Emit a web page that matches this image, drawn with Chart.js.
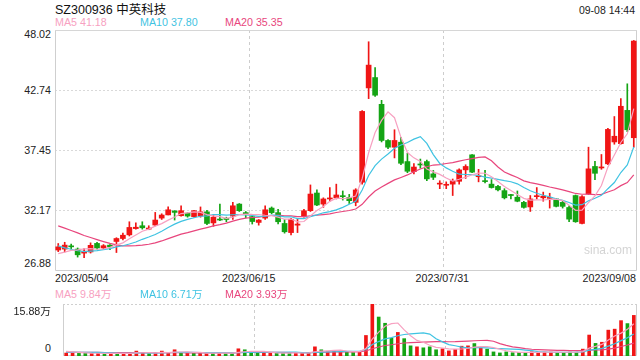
<!DOCTYPE html>
<html><head><meta charset="utf-8">
<script src="https://cdn.jsdelivr.net/npm/chart.js@4/dist/chart.umd.min.js"></script>
<style>
html,body{margin:0;padding:0;background:#fff;}
body{width:640px;height:360px;position:relative;overflow:hidden;font-family:"Liberation Sans",Arial,"Noto Sans CJK SC",sans-serif;}
.t{position:absolute;white-space:nowrap;line-height:1;color:#222;}
canvas{position:absolute;}
</style></head><body>
<canvas id="main" width="583" height="242" style="left:54px;top:29px;width:583px;height:242px"></canvas>
<canvas id="vol" width="583" height="53" style="left:54px;top:303px;width:583px;height:53px"></canvas>
<script>
// ---------- data ----------
const dates = ['2023/05/04','2023/05/05','2023/05/08','2023/05/09','2023/05/10','2023/05/11','2023/05/12','2023/05/15','2023/05/16','2023/05/17',
'2023/05/18','2023/05/19','2023/05/22','2023/05/23','2023/05/24','2023/05/25','2023/05/26','2023/05/29','2023/05/30','2023/05/31',
'2023/06/01','2023/06/02','2023/06/05','2023/06/06','2023/06/07','2023/06/08','2023/06/09','2023/06/12','2023/06/13','2023/06/14',
'2023/06/15','2023/06/16','2023/06/19','2023/06/20','2023/06/21','2023/06/26','2023/06/27','2023/06/28','2023/06/29','2023/06/30',
'2023/07/03','2023/07/04','2023/07/05','2023/07/06','2023/07/07','2023/07/10','2023/07/11','2023/07/12','2023/07/13','2023/07/14',
'2023/07/17','2023/07/18','2023/07/19','2023/07/20','2023/07/21','2023/07/24','2023/07/25','2023/07/26','2023/07/27','2023/07/28',
'2023/07/31','2023/08/01','2023/08/02','2023/08/03','2023/08/04','2023/08/07','2023/08/08','2023/08/09','2023/08/10','2023/08/11',
'2023/08/14','2023/08/15','2023/08/16','2023/08/17','2023/08/18','2023/08/21','2023/08/22','2023/08/23','2023/08/24','2023/08/25',
'2023/08/28','2023/08/29','2023/08/30','2023/08/31','2023/09/01','2023/09/04','2023/09/05','2023/09/06','2023/09/07','2023/09/08'];

const openP = [28.72,28.80,29.02,28.80,28.45,28.55,29.30,28.90,29.15,29.47,
29.73,30.05,30.60,30.85,30.55,30.91,31.52,31.80,32.15,31.73,
31.95,31.65,31.70,32.07,31.10,31.42,31.45,31.70,32.75,32.00,
31.65,31.14,31.52,32.40,32.00,31.05,30.25,30.90,31.70,32.17,
33.72,32.75,33.20,33.30,33.45,33.33,32.90,34.66,42.94,43.85,
41.50,38.33,37.74,38.18,36.48,35.60,36.22,36.48,35.40,34.50,
34.40,34.50,34.75,35.75,37.07,35.15,34.78,34.50,34.30,33.93,
33.58,33.35,32.90,32.50,33.40,33.30,33.25,33.20,32.90,32.45,
33.50,31.05,33.64,36.05,35.92,36.28,38.20,38.05,40.97,38.57];

const highP = [29.29,29.40,29.25,28.90,28.85,29.35,29.40,29.20,29.20,29.80,
30.20,31.20,31.10,31.20,30.85,32.02,31.90,32.50,32.17,32.60,
32.00,32.20,32.50,32.20,31.80,32.75,31.60,32.90,32.80,32.10,
31.70,31.40,32.60,32.50,32.30,31.40,31.50,31.45,32.30,34.43,
33.99,33.30,34.20,34.50,33.90,33.60,34.10,40.95,46.99,44.73,
41.85,38.40,39.27,38.60,37.20,36.30,36.70,36.60,35.70,34.80,
34.70,34.95,35.85,36.20,37.10,35.80,35.70,34.90,34.40,34.10,
33.60,33.90,33.00,33.50,34.20,33.80,33.70,33.25,33.00,32.60,
33.55,33.50,37.74,36.50,37.10,39.40,40.43,42.00,43.30,47.10];

const lowP = [28.58,28.55,28.80,28.10,28.05,28.45,28.80,28.80,28.75,28.50,
29.60,29.95,30.55,30.55,30.50,30.84,31.40,31.80,31.35,31.70,
31.60,31.60,31.60,30.95,30.80,31.30,31.20,31.40,32.10,31.55,
31.00,30.90,31.40,31.90,31.00,30.20,30.05,30.25,31.60,32.10,
32.60,32.46,33.00,33.20,33.10,32.80,32.60,34.50,42.00,42.20,
38.20,37.60,36.80,36.20,35.50,35.40,35.90,34.80,34.90,34.10,
34.10,33.50,34.50,35.00,35.50,34.70,34.60,34.15,33.90,33.20,
33.20,32.95,32.40,32.10,33.20,33.00,32.40,32.50,32.40,31.20,
31.15,31.00,33.60,34.90,35.80,36.20,38.00,38.00,39.10,37.74];

const closeP = [29.00,29.15,29.00,28.30,28.62,29.13,28.90,29.10,29.00,29.73,
30.02,30.70,30.72,30.67,30.65,31.35,31.79,32.25,32.02,32.17,
31.70,32.17,32.07,31.05,31.60,31.35,31.40,32.60,32.17,31.85,
31.22,31.35,32.25,32.00,31.20,30.32,31.42,31.00,32.17,33.63,
32.67,33.20,33.28,33.55,33.40,33.05,33.99,40.88,44.94,42.30,
38.33,37.74,38.33,36.33,35.63,36.00,36.18,34.96,35.10,34.52,
34.45,34.80,35.75,36.05,35.55,35.20,34.72,34.20,34.00,33.30,
33.50,33.00,32.46,33.20,33.43,33.45,33.30,32.55,32.55,31.43,
31.20,33.40,35.84,35.45,35.98,39.30,38.70,41.33,39.27,47.05];

// volume in 万 shares
const volume = [0.90,0.85,0.80,0.90,0.80,0.85,0.80,0.75,0.80,0.95,
0.85,1.50,0.90,0.85,0.80,1.50,1.00,1.90,0.90,0.95,
0.85,0.85,0.90,0.95,0.85,0.80,0.75,2.20,1.90,1.30,
0.90,0.85,0.95,0.85,0.90,0.95,1.00,0.85,0.90,2.80,
1.90,1.45,1.45,1.45,1.35,1.05,1.35,6.27,15.88,11.90,
10.00,5.40,7.20,5.30,3.10,2.80,2.50,2.80,1.90,2.20,
1.57,2.00,3.00,3.10,3.80,2.50,2.10,1.25,0.94,1.25,
1.00,1.10,1.10,1.30,1.10,1.20,1.20,1.10,1.10,1.20,
1.15,2.10,6.40,3.85,4.20,7.90,8.20,10.80,9.90,12.40];

// sessions before 2023/05/04 (not drawn), estimated from where the MA lines start
const prevClose = [33.2,33.0,32.6,33.1,32.8,32.5,32.6,32.25,32.2,31.75,30.9,30.2,29.6,29.3,28.8,28.5,28.2,28.1,28.2];
const prevVolume = [1.3,1.1,1.2,1.0,1.2,1.1,1.0,1.3,1.1,1.0,1.2,0.9,1.0,0.9,0.8,1.6,1.5,1.7,1.4];

const priceTicks = [26.88, 32.17, 37.45, 42.74, 48.02];
const volTicks = [0, 15.88];
const gridDates = ['2023/06/15', '2023/07/31'];
const axisDates = ['2023/05/04', '2023/06/15', '2023/07/31', '2023/09/08'];

// ---------- styling ----------
const UP = '#f01515', DOWN = '#14a414';
const C5 = '#f7a1c1', C10 = '#3fc3e2', C20 = '#e8467d';

function movingAvg(series, prev, n) {
  const all = prev.concat(series);
  return series.map((_, i) => {
    let s = 0;
    for (let k = 0; k < n; k++) s += all[i + prev.length - k];
    return s / n;
  });
}
const ma5 = movingAvg(closeP, prevClose, 5), ma10 = movingAvg(closeP, prevClose, 10), ma20 = movingAvg(closeP, prevClose, 20);
const vma5 = movingAvg(volume, prevVolume, 5), vma10 = movingAvg(volume, prevVolume, 10), vma20 = movingAvg(volume, prevVolume, 20);
const colors = closeP.map((c, i) => c >= openP[i] ? UP : DOWN);

const frame = {
  id: 'frame',
  beforeDatasetsDraw(chart, args, opts) {
    const {ctx, chartArea: a} = chart;
    ctx.save();
    ctx.strokeStyle = '#cfcfcf';
    ctx.lineWidth = 1;
    ctx.beginPath();
    ctx.moveTo(Math.round(a.left) + 0.5, a.top);
    ctx.lineTo(Math.round(a.left) + 0.5, Math.round(a.bottom) - 0.5);
    ctx.lineTo(Math.round(a.right) - 0.5, Math.round(a.bottom) - 0.5);
    ctx.lineTo(Math.round(a.right) - 0.5, a.top);
    ctx.stroke();
    ctx.strokeStyle = opts.topColor || '#d6d6d6';
    ctx.setLineDash(opts.topDash || []);
    ctx.beginPath();
    ctx.moveTo(a.left, Math.round(a.top) + 0.5);
    ctx.lineTo(a.right, Math.round(a.top) + 0.5);
    ctx.stroke();
    ctx.restore();
  }
};

const xScale = {
  offset: true,
  grid: { offset: true, drawTicks: false, lineWidth: 1,
    color: c => (c.tick && gridDates.includes(dates[c.index])) ? '#cdcdcd' : 'rgba(0,0,0,0)' },
  border: { display: false, dash: [3, 3] },
  ticks: { display: false }
};
const lineDs = (data, color) => ({ type: 'line', data, borderColor: color, borderWidth: 1.2,
  pointRadius: 0, fill: false, tension: 0, order: 0 });
const baseOpts = {
  responsive: false, animation: false, devicePixelRatio: 1,
  layout: { padding: { left: 1, top: 1, right: 0, bottom: 0 } },
  events: []
};

new Chart(document.getElementById('main'), {
  type: 'bar',
  data: {
    labels: dates,
    datasets: [
      lineDs(ma5, C5), lineDs(ma10, C10), lineDs(ma20, C20),
      { data: dates.map((_, i) => [openP[i], closeP[i]]), backgroundColor: colors,
        barThickness: 5, minBarLength: 1, grouped: false, order: 1 },
      { data: dates.map((_, i) => [lowP[i], highP[i]]), backgroundColor: colors,
        barThickness: 1, grouped: false, order: 2 }
    ]
  },
  options: Object.assign({}, baseOpts, {
    plugins: { legend: { display: false }, tooltip: { enabled: false }, frame: { topDash: [] } },
    scales: {
      x: xScale,
      y: { min: priceTicks[0], max: priceTicks[priceTicks.length - 1],
        afterBuildTicks: s => { s.ticks = priceTicks.slice(1, -1).map(v => ({ value: v })); },
        grid: { drawTicks: false, color: '#d9d9d9', lineWidth: 1 },
        border: { display: false, dash: [2, 2] },
        ticks: { display: false } }
    }
  }),
  plugins: [frame]
});

new Chart(document.getElementById('vol'), {
  type: 'bar',
  data: {
    labels: dates,
    datasets: [
      lineDs(vma5, C5), lineDs(vma10, C10), lineDs(vma20, C20),
      { data: volume, backgroundColor: colors, barThickness: 3, grouped: false, order: 1 }
    ]
  },
  options: Object.assign({}, baseOpts, {
    plugins: { legend: { display: false }, tooltip: { enabled: false }, frame: { topDash: [2, 2], topColor: '#cfcfcf' } },
    scales: {
      x: xScale,
      y: { min: volTicks[0], max: volTicks[1], grid: { display: false },
        border: { display: false }, ticks: { display: false } }
    }
  }),
  plugins: [frame]
});

// ---------- text ----------
function label(text, x, cy, align, fs, color) {
  const d = document.createElement('div');
  d.className = 't';
  d.textContent = text;
  d.style.fontSize = fs + 'px';
  d.style.top = (cy - 0.49 * fs) + 'px';
  if (color) d.style.color = color;
  if (align === 'right') d.style.right = (640 - x) + 'px';
  else if (align === 'center') { d.style.left = x + 'px'; d.style.transform = 'translateX(-50%)'; }
  else d.style.left = x + 'px';
  document.body.appendChild(d);
}
label('SZ300936 中英科技', 55, 10.5, 'left', 12.5, '#111');
label('09-08 14:44', 635, 10, 'right', 10.5, '#222');
label('MA5 41.18', 55, 22, 'left', 10.7, C5);
label('MA10 37.80', 140, 22, 'left', 10.7, C10);
label('MA20 35.35', 225, 22, 'left', 10.7, C20);
const yCenters = [263.5, 210, 150, 90, 34.5];
priceTicks.forEach((v, i) => label(v.toFixed(2), 51, yCenters[i], 'right', 10.7, '#222'));
label(axisDates[0], 55, 278, 'left', 10.7, '#222');
label(axisDates[1], 248.7, 278, 'center', 10.7, '#222');
label(axisDates[2], 442.3, 278, 'center', 10.7, '#222');
label(axisDates[3], 636, 278, 'right', 10.7, '#222');
label('MA5 9.84万', 55, 294.5, 'left', 10.7, C5);
label('MA10 6.71万', 140, 294.5, 'left', 10.7, C10);
label('MA20 3.93万', 225, 294.5, 'left', 10.7, C20);
label(volTicks[1].toFixed(2) + '万', 51, 311, 'right', 10.7, '#222');
label(String(volTicks[0]), 51, 348, 'right', 10.7, '#222');
label('sina.com', 584, 250, 'left', 12, '#d4d4d4');
</script>
</body></html>
